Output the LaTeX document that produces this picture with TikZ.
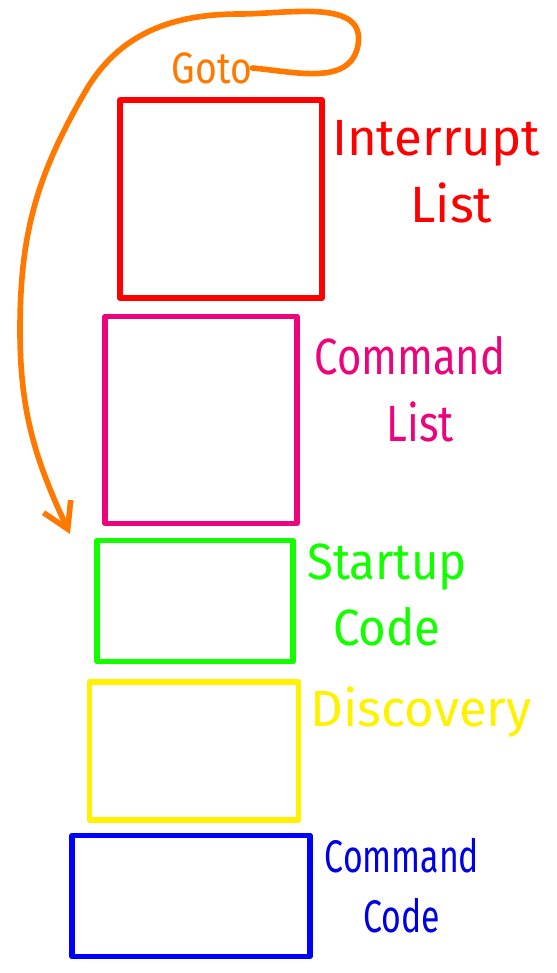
\documentclass[tikz,border=0pt]{standalone}
\usepackage{fontspec}
\setmainfont{Fira Sans}
\usetikzlibrary{arrows.meta,positioning}

\begin{document}
\begin{tikzpicture}[x=0.02cm,y=-0.02cm,>={Straight Barb[length=5mm,width=6mm]},
  block/.style={draw,line width=3.2pt,line join=round,minimum width=#1},
  lbl/.style={align=center,font=\fontsize{29}{38}\selectfont,inner sep=0pt},
  goto/.style={->,draw=orange!95!red,line width=3.2pt,line cap=round}]
\useasboundingbox (0,0) rectangle (556,973);
% memory blocks, top to bottom
\node[block=4.04cm,draw=red,minimum height=3.96cm] (irq) at (221,199) {};
\node[block=3.84cm,draw=magenta!85!red,minimum height=4.14cm] (cmdlist) at (201,420) {};
\node[block=3.92cm,draw=green!90!lime,minimum height=2.42cm] (startup) at (195,601) {};
\node[block=4.18cm,draw=yellow,minimum height=2.76cm] (disc) at (194,751) {};
\node[block=4.76cm,draw=blue,minimum height=2.42cm] (cmdcode) at (191,896) {};
% labels beside the blocks
\node[lbl,text=red] (irqlbl) at (436,172) {Interrupt\\\hspace*{0.6em}List};
\node[lbl,text=magenta!85!red,xscale=0.82,transform shape] (cmdlistlbl) at (410,389) {Command\\\hspace*{0.5em}List};
\node[lbl,text=green!90!lime,xscale=0.93,transform shape] (startuplbl) at (387,595) {Startup\\Code};
\node[lbl,text=yellow] (disclbl) at (421,712) {Discovery};
\node[lbl,text=blue!90!black,font=\fontsize{26}{34}\selectfont,xscale=0.74,transform shape] (cmdcodelbl) at (402,886) {Command\\Code};
% jump back into the startup code
\node[lbl,text=orange!95!red,font=\fontsize{25}{30}\selectfont,xscale=0.85,transform shape] (goto) at (212,68) {Goto};
\coordinate (entry) at (70,534);
\draw[goto] (goto.east) to[out=-5,in=-100] (358,45) to[out=80,in=0] (240,14)
  to[out=180,in=60] (85,92) to[out=240,in=90] (20,330) to[out=-90,in=115] (entry);
\end{tikzpicture}
\end{document}
